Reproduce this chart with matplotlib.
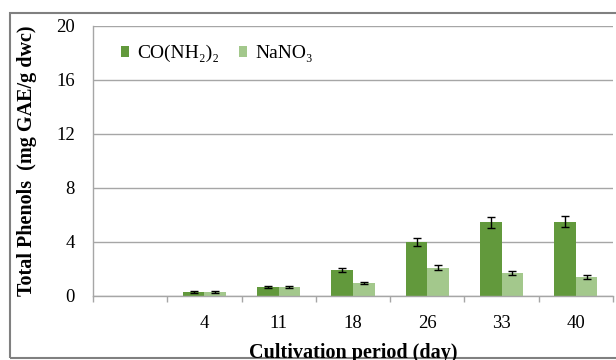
import matplotlib
matplotlib.use("Agg")
import matplotlib.pyplot as plt
from matplotlib.patches import Rectangle
import numpy as np

plt.rcParams['font.family'] = ['Liberation Serif', 'DejaVu Serif']

# data
days = ['', '4', '11', '18', '26', '33', '40']
urea = [np.nan, 0.30, 0.65, 1.93, 4.00, 5.47, 5.50]
urea_err = [0, 0.05, 0.08, 0.13, 0.28, 0.41, 0.41]
nitrate = [np.nan, 0.30, 0.65, 0.95, 2.10, 1.70, 1.38]
nitrate_err = [0, 0.05, 0.08, 0.08, 0.18, 0.16, 0.14]

dark = '#62993c'
light = '#a3c88c'

fig = plt.figure(figsize=(6.16, 3.6), dpi=100)
ax = fig.add_axes([93 / 616, 1 - 296 / 360, 520 / 616, 270 / 360])

x = np.arange(len(days))
w = 0.29
err_kw = dict(ecolor='black', elinewidth=1, capthick=1)
ax.bar(x - w / 2, urea, w, color=dark, yerr=urea_err, capsize=3,
       error_kw=err_kw, label='CO(NH\u2082)\u2082', zorder=2)
ax.bar(x + w / 2, nitrate, w, color=light, yerr=nitrate_err, capsize=3,
       error_kw=err_kw, label='NaNO\u2083', zorder=2)

ax.set_xlim(-0.5, len(days) - 0.5)
ax.set_ylim(0, 20)
ax.set_yticks([0, 4, 8, 12, 16, 20])
ax.yaxis.grid(True, color='#a6a6a6', lw=1)
ax.set_axisbelow(True)
ax.tick_params(axis='y', length=0, labelsize=13.5, pad=13)

ax.set_xticks(x)
ax.set_xticklabels(days)
ax.set_xticks(np.arange(len(days) + 1) - 0.5, minor=True)
ax.tick_params(axis='x', which='major', length=0, labelsize=13.5, pad=14)
ax.tick_params(axis='x', which='minor', length=4.5, color='#a6a6a6', width=1)

for s in ['top', 'right']:
    ax.spines[s].set_visible(False)
for s in ['left', 'bottom']:
    ax.spines[s].set_color('#a6a6a6')
    ax.spines[s].set_linewidth(1)

ax.set_ylabel('Total Phenols  (mg GAE/g dwc)', fontsize=14.5, fontweight='bold')
ax.yaxis.set_label_coords(-0.108, 0.5)
fig.text(353 / 616, 1 - 358 / 360, 'Cultivation period (day)', fontsize=14.5,
         fontweight='bold', ha='center', va='baseline')

ax.legend(loc='upper left', bbox_to_anchor=(0.038, 0.958), ncol=2, frameon=False,
          fontsize=14, handlelength=0.45, handleheight=0.45, handletextpad=0.4,
          columnspacing=1.0, borderaxespad=0)

fig.patches.append(Rectangle((10 / 616, 2 / 360), 1.0, 1 - 15 / 360,
                             transform=fig.transFigure, fill=False,
                             edgecolor='#808080', lw=1.5))

fig.savefig('out.png', dpi=100)
